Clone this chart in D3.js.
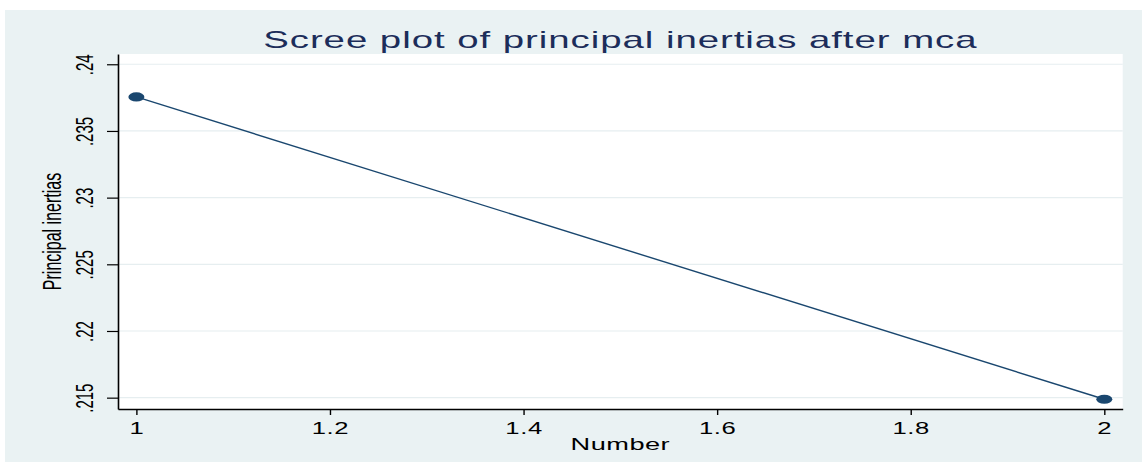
<!DOCTYPE html>
<html>
<head>
<meta charset="utf-8">
<script src="https://cdn.jsdelivr.net/npm/d3@7"></script>
<style>
  html, body { margin: 0; padding: 0; background: #ffffff; }
  svg { display: block; font-family: "Liberation Sans", Arial, sans-serif; }
</style>
</head>
<body>
<div id="chart"></div>
<script>
// Datos
const numbers = [1, 2];
const inertias = [0.23755, 0.21488];
const xTicks = [1, 1.2, 1.4, 1.6, 1.8, 2];
const yTicks = [0.215, 0.22, 0.225, 0.23, 0.235, 0.24];

const chartTitle = 'Scree plot of principal inertias after mca';
const xTitle = 'Number';
const yTitle = 'Principal inertias';

// Colores fijos
const COLOR_BG = '#eaf2f3',
  COLOR_LINE = '#1a476f',
  COLOR_TITLE = '#1c2d5a',
  COLOR_GRID = '#e6eef0';

// the picture is stretched sideways, text too
const SX = 1.6;

let W = 1142, H = 463;
let margin = {top: 54, right: 19.3, bottom: 54, left: 118};

let svg = d3.select('#chart')
  .append('svg')
  .attr('width', W)
  .attr('height', H);

svg.append('rect')
  .attr('x', 5).attr('y', 10)
  .attr('width', W - 5).attr('height', H - 11)
  .attr('fill', COLOR_BG);

svg.append('rect')
  .attr('x', margin.left).attr('y', margin.top)
  .attr('width', W - margin.left - margin.right)
  .attr('height', H - margin.top - margin.bottom)
  .attr('fill', '#ffffff');

let x = d3.scaleLinear()
  .domain([0.981, 2.019])
  .range([margin.left, W - margin.right]);

let y = d3.scaleLinear()
  .domain([0.21415, 0.24077])
  .range([H - margin.bottom, margin.top]);

// grid
svg.append('g')
  .selectAll('line')
  .data(yTicks)
  .enter()
  .append('line')
  .attr('x1', x.range()[0]).attr('x2', x.range()[1])
  .attr('y1', d => y(d)).attr('y2', d => y(d))
  .attr('stroke', COLOR_GRID)
  .attr('stroke-width', 1.2);

// Y axis
let yAxis = function(g) {
  g.call(d3.axisLeft(y)
    .tickValues(yTicks)
    .tickSize(11)
    .tickSizeOuter(0)
    .tickFormat(d => d3.format('.3~f')(d).replace(/^0\./, '.')));
  g.select('.domain').attr('stroke', '#000').attr('stroke-width', 1.6);
  g.selectAll('.tick line').attr('stroke', '#000').attr('stroke-width', 1.2);
  g.selectAll('.tick text')
    .attr('x', 0).attr('dy', 0)
    .attr('fill', '#000')
    .attr('font-size', 15)
    .attr('text-anchor', 'middle')
    .attr('transform', 'translate(-25,0) scale(' + SX + ',1) rotate(-90)');
};

svg.append('g')
  .attr('transform', 'translate(' + margin.left + ',0)')
  .attr('font-family', null)
  .call(yAxis);

// X axis
let xAxis = function(g) {
  g.call(d3.axisBottom(x)
    .tickValues(xTicks)
    .tickSize(6)
    .tickSizeOuter(0)
    .tickFormat(d3.format('~g')));
  g.select('.domain').attr('stroke', '#000').attr('stroke-width', 1.4);
  g.selectAll('.tick line').attr('stroke', '#000').attr('stroke-width', 1.4);
  g.selectAll('.tick text')
    .attr('y', 0).attr('dy', 0)
    .attr('fill', '#000')
    .attr('font-size', 16)
    .attr('letter-spacing', 0.4)
    .attr('transform', 'translate(0,' + 24.5 + ') scale(' + SX + ',1)');
};

svg.append('g')
  .attr('transform', 'translate(0,' + (H - margin.bottom) + ')')
  .attr('font-family', null)
  .call(xAxis);

// line + markers
let pts = numbers.map((n, i) => ({n: n, v: inertias[i]}));

svg.append('path')
  .datum(pts)
  .attr('fill', 'none')
  .attr('stroke', COLOR_LINE)
  .attr('stroke-width', 1.4)
  .attr('d', d3.line().x(d => x(d.n)).y(d => y(d.v)));

svg.append('g')
  .selectAll('ellipse')
  .data(pts)
  .enter()
  .append('ellipse')
  .attr('cx', d => x(d.n))
  .attr('cy', d => y(d.v))
  .attr('rx', 8)
  .attr('ry', 4.6)
  .attr('fill', COLOR_LINE);

// titles
let midX = (x.range()[0] + x.range()[1]) / 2;

svg.append('text')
  .attr('transform', 'translate(' + midX + ',48) scale(' + SX + ',1)')
  .attr('text-anchor', 'middle')
  .attr('font-size', 24)
  .attr('letter-spacing', 0.6)
  .attr('fill', COLOR_TITLE)
  .text(chartTitle);

svg.append('text')
  .attr('transform', 'translate(' + midX + ',450) scale(' + SX + ',1)')
  .attr('text-anchor', 'middle')
  .attr('font-size', 17)
  .attr('letter-spacing', 0.3)
  .attr('fill', '#000')
  .text(xTitle);

svg.append('text')
  .attr('transform', 'translate(61,' + ((y.range()[0] + y.range()[1]) / 2) + ') scale(' + SX + ',1) rotate(-90)')
  .attr('text-anchor', 'middle')
  .attr('font-size', 16)
  .attr('fill', '#000')
  .text(yTitle);
</script>
</body>
</html>
